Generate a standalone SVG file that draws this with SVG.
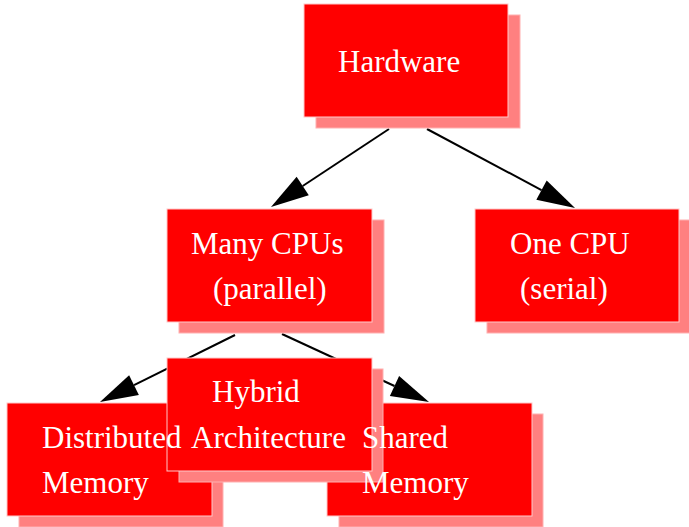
<svg xmlns="http://www.w3.org/2000/svg" width="689" height="527" viewBox="0 0 689 527">
  <style>
    .shadow { fill: #ff8080; stroke: #ffb0b0; stroke-width: 1; }
    .box { fill: #ff0000; stroke: #ffc8c8; stroke-width: 1; }
    .label { font-family: "Liberation Serif", "Times New Roman", serif; font-size: 31px; fill: #ffffff; }
    .edge { stroke: #000000; stroke-width: 2; fill: none; marker-end: url(#arrow); }
  </style>
  <defs>
    <marker id="arrow" markerUnits="userSpaceOnUse" markerWidth="40" markerHeight="24" refX="0" refY="11" orient="auto" overflow="visible">
      <path d="M0,0 L38,11 L0,22 Z" fill="#000000"/>
    </marker>
  </defs>
  <rect width="689" height="527" fill="#ffffff"/>

  <!-- connectors (drawn beneath the boxes) -->
  <g id="edges">
    <line class="edge" x1="389" y1="129" x2="302.7" y2="186"/>
    <line class="edge" x1="427" y1="129" x2="541.5" y2="190.1"/>
    <line class="edge" x1="235" y1="335" x2="134" y2="385.1"/>
    <line class="edge" x1="282" y1="334" x2="394.5" y2="386"/>
  </g>

  <!-- boxes -->
  <g id="node-hardware">
    <rect class="shadow" x="316" y="15" width="204" height="113"/>
    <rect class="box" x="304" y="4" width="204" height="113"/>
  </g>
  <g id="node-many-cpus">
    <rect class="shadow" x="179" y="220" width="205" height="113"/>
    <rect class="box" x="167" y="209" width="205" height="113"/>
  </g>
  <g id="node-one-cpu">
    <rect class="shadow" x="487" y="220" width="205" height="113"/>
    <rect class="box" x="475" y="209" width="204" height="113"/>
  </g>
  <g id="node-distributed">
    <rect class="shadow" x="19" y="414" width="204" height="113"/>
    <rect class="box" x="7" y="403" width="205" height="113"/>
  </g>
  <g id="node-shared">
    <rect class="shadow" x="339" y="414" width="204" height="113"/>
    <rect class="box" x="327" y="403" width="205" height="113"/>
  </g>
  <g id="node-hybrid">
    <rect class="shadow" x="179" y="369" width="204" height="113"/>
    <rect class="box" x="167" y="358" width="205" height="113"/>
  </g>

  <!-- labels sit above every box -->
  <g id="labels">
    <text id="label-hardware" class="label" x="338" y="72">Hardware</text>
    <text id="label-many-cpus" class="label"><tspan x="191" y="254">Many CPUs</tspan><tspan x="213" y="299">(parallel)</tspan></text>
    <text id="label-one-cpu" class="label"><tspan x="510" y="254">One CPU</tspan><tspan x="520" y="299">(serial)</tspan></text>
    <text id="label-distributed" class="label"><tspan x="42" y="448">Distributed</tspan><tspan x="42" y="493">Memory</tspan></text>
    <text id="label-shared" class="label"><tspan x="362" y="448">Shared</tspan><tspan x="362" y="493">Memory</tspan></text>
    <text id="label-hybrid" class="label"><tspan x="212" y="402">Hybrid</tspan><tspan x="191" y="448">Architecture</tspan></text>
  </g>
</svg>
